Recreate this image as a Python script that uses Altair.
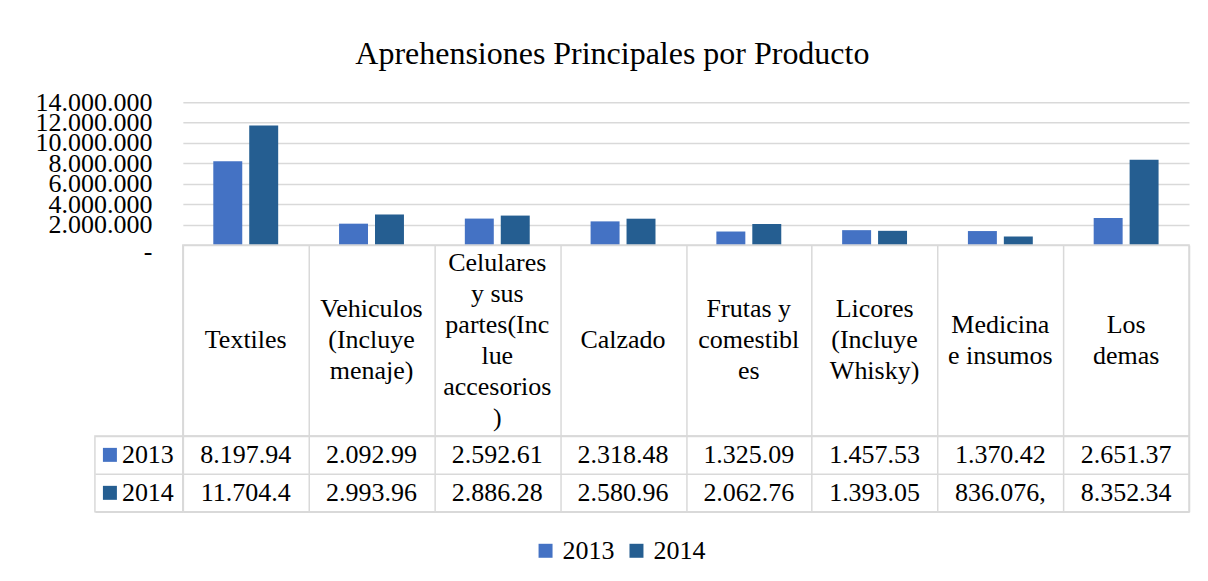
import altair as alt
import pandas as pd

# ---- data ----
categories = [
    "Textiles",
    "Vehiculos (Incluye menaje)",
    "Celulares y sus partes(Inclue accesorios)",
    "Calzado",
    "Frutas y comestibles",
    "Licores (Incluye Whisky)",
    "Medicina e insumos",
    "Los demas",
]
header_lines = [
    ["Textiles"],
    ["Vehiculos", "(Incluye", "menaje)"],
    ["Celulares", "y sus", "partes(Inc", "lue", "accesorios", ")"],
    ["Calzado"],
    ["Frutas y", "comestibl", "es"],
    ["Licores", "(Incluye", "Whisky)"],
    ["Medicina", "e insumos"],
    ["Los", "demas"],
]
years = ["2013", "2014"]
values_2013 = [8197940, 2092990, 2592610, 2318480, 1325090, 1457530, 1370420, 2651370]
values_2014 = [11704400, 2993960, 2886280, 2580960, 2062760, 1393050, 836076, 8352340]
table_2013 = ["8.197.94", "2.092.99", "2.592.61", "2.318.48", "1.325.09", "1.457.53", "1.370.42", "2.651.37"]
table_2014 = ["11.704.4", "2.993.96", "2.886.28", "2.580.96", "2.062.76", "1.393.05", "836.076,", "8.352.34"]
y_ticks = [0, 2000000, 4000000, 6000000, 8000000, 10000000, 12000000, 14000000]
colors = ["#4472C4", "#255E91"]

FONT = "Liberation Serif"
GRID = "#D9D9D9"
TXT = "#000000"
PLOT_W = 1007
HEAD_H = 191
LINE_H = 31

bar_df = pd.DataFrame(
    [{"cat": c, "year": "2013", "value": v} for c, v in zip(categories, values_2013)]
    + [{"cat": c, "year": "2014", "value": v} for c, v in zip(categories, values_2014)]
)
# one row per header line; "pos" is the line's slot, centred on 0
head_rows = []
for c, lines in zip(categories, header_lines):
    n = len(lines)
    for i, ln in enumerate(lines):
        head_rows.append({"cat": c, "line": ln, "pos": (n - 1) / 2 - i})
head_df = pd.DataFrame(head_rows)
tab_df = pd.DataFrame(
    [{"cat": c, "year": "2013", "txt": t} for c, t in zip(categories, table_2013)]
    + [{"cat": c, "year": "2014", "txt": t} for c, t in zip(categories, table_2014)]
)
leg_df = pd.DataFrame({"year": years})

color_scale = alt.Scale(domain=years, range=colors)
x_scale = alt.Scale(domain=categories, paddingInner=0, paddingOuter=0)
half = HEAD_H / LINE_H / 2

grid_axis = dict(grid=True, tickBand="extent", labels=False, ticks=False, domain=False,
                 title=None, gridColor=GRID, gridWidth=1.5)

bars = alt.Chart(bar_df).mark_bar().encode(
    x=alt.X("cat:N", sort=categories, scale=x_scale, axis=None),
    xOffset=alt.XOffset("year:N", sort=years,
                        scale=alt.Scale(paddingInner=0.194, paddingOuter=0.847)),
    y=alt.Y("value:Q", scale=alt.Scale(domain=[0, 14000000], nice=False),
            axis=alt.Axis(values=y_ticks, title=None, grid=True, gridColor=GRID, gridWidth=1.5,
                          ticks=False, domain=False, labelOverlap=False, labelPadding=31,
                          labelFont=FONT, labelFontSize=26, labelColor=TXT,
                          labelOffset={"condition": {"test": "datum.value == 0", "value": 6}, "value": 0},
                          labelExpr="datum.value == 0 ? '-' : replace(format(datum.value, ',.0f'), regexp(',', 'g'), '.')")),
    color=alt.Color("year:N", scale=color_scale,
                    legend=alt.Legend(title=None, orient="none", direction="horizontal",
                                      legendX=438, legendY=436,
                                      symbolType="square", symbolSize=196, symbolStrokeWidth=0,
                                      labelFont=FONT, labelFontSize=26, labelColor=TXT,
                                      labelOffset=4, columnPadding=9)),
).properties(width=PLOT_W, height=143, view=alt.ViewBackground(stroke=None))

header = alt.Chart(head_df).mark_text(
    font=FONT, fontSize=26, color=TXT
).encode(
    x=alt.X("cat:N", sort=categories, scale=x_scale, axis=alt.Axis(**grid_axis)),
    y=alt.Y("pos:Q", scale=alt.Scale(domain=[-half, half], nice=False, zero=False), axis=None),
    text="line:N",
).properties(width=PLOT_W, height=HEAD_H,
             view=alt.ViewBackground(stroke=GRID, strokeWidth=1.5))

rows = alt.Chart(tab_df).mark_text(font=FONT, fontSize=26, color=TXT).encode(
    x=alt.X("cat:N", sort=categories, scale=x_scale, axis=alt.Axis(**grid_axis)),
    y=alt.Y("year:N", sort=years, scale=alt.Scale(paddingInner=0, paddingOuter=0),
            axis=alt.Axis(**grid_axis)),
    text="txt:N",
).properties(width=PLOT_W, height=76,
             view=alt.ViewBackground(stroke=GRID, strokeWidth=1.5))

leg_base = alt.Chart(leg_df).encode(
    y=alt.Y("year:N", sort=years, scale=alt.Scale(paddingInner=0, paddingOuter=0),
            axis=alt.Axis(**grid_axis)),
)
leg_sq = leg_base.mark_square(size=196, opacity=1).encode(
    x=alt.value(15), color=alt.Color("year:N", scale=color_scale, legend=None))
leg_tx = leg_base.mark_text(font=FONT, fontSize=26, color=TXT, align="left").encode(
    x=alt.value(27), text="year:N")
legcol = alt.layer(leg_sq, leg_tx).properties(
    width=88, height=76, view=alt.ViewBackground(stroke=GRID, strokeWidth=1.5))

spacer_df = pd.DataFrame({"a": [0]})
spacer1 = alt.Chart(spacer_df).mark_point(opacity=0).properties(
    width=88, height=143, view=alt.ViewBackground(stroke=None))
spacer2 = alt.Chart(spacer_df).mark_point(opacity=0).properties(
    width=88, height=HEAD_H, view=alt.ViewBackground(stroke=None))

chart = alt.concat(
    spacer1, bars, spacer2, header, legcol, rows,
    columns=2, spacing=0, bounds="flush",
    title=alt.TitleParams("Aprehensiones Principales por Producto", font=FONT, fontSize=32,
                          fontWeight="normal", color=TXT, anchor="middle", offset=18),
).resolve_scale(
    x="independent", y="independent"
).properties(
    padding={"left": 27, "top": 30, "right": 10, "bottom": 10},
    background="white",
)

chart.save("out.html", embed_options={"renderer": "svg", "actions": False})
